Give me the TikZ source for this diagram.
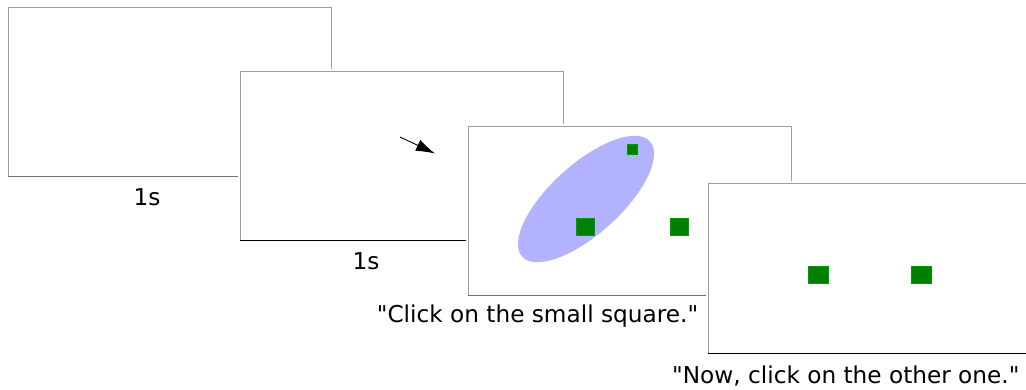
\documentclass[tikz,border=0pt]{standalone}
\usepackage{fontspec}
\setmainfont{DejaVu Sans}[Ligatures=TeXOff]
\usetikzlibrary{arrows.meta}
\begin{document}
\begin{tikzpicture}[x=1pt,y=1pt,
  panel/.style={draw=black!38, line width=1pt, fill=white, minimum width=323pt, minimum height=169pt, inner sep=0pt, outer sep=0pt, anchor=north west},
  halo/.style={draw=white, line width=5pt},
  lbl/.style={font=\fontsize{23.2}{27}\selectfont, anchor=base, inner sep=0pt},
  sq/.style={fill=green!50!black, draw=green!60!black, line width=0.4pt, inner sep=0pt, outer sep=0pt},
  pointer/.style={-{Latex[length=19pt,width=12pt]}, line width=0.9pt, black}]
\clip (0,0) rectangle (1026,-390);
\fill[white] (0,0) rectangle (1026,-390);
% panel 1
\node[panel] (p1) at (8,-7.5) {};
\draw[black!55, line width=1pt] (p1.south west) -- (p1.south east);
\node[lbl] (t1) at (147,-206) {1s};
% panel 2
\draw[halo] (240,-72) rectangle ++(323,-169);
\node[panel] (p2) at (240,-72) {};
\draw[black, line width=1pt] (p2.south west) -- (p2.south east);
\coordinate (a1) at (400,-137);
\coordinate (a2) at (435,-153.5);
\draw[pointer] (a1) -- (a2);
\node[lbl] (t2) at (366,-269.5) {1s};
% panel 3
\draw[halo] (468,-126.5) rectangle ++(323,-169);
\node[panel] (p3) at (468,-126.5) {};
\draw[black!55, line width=1pt] (p3.south west) -- (p3.south east);
\fill[blue!30] (586,-199) ellipse [x radius=86pt, y radius=35pt, rotate=42];
\node[sq, minimum width=10pt, minimum height=10pt] (s1) at (632,-149.5) {};
\node[sq, minimum width=18pt, minimum height=17pt] (s2) at (585,-226.5) {};
\node[sq, minimum width=18pt, minimum height=17pt] (s3) at (679.5,-226.5) {};
\node[lbl] (t3) at (537.5,-322) {"Click on the small square."};
% panel 4
\draw[halo] (708,-184) rectangle ++(323,-169);
\node[panel] (p4) at (708,-184) {};
\draw[black, line width=1pt] (p4.south west) -- (p4.south east);
\node[sq, minimum width=20pt, minimum height=17pt] (s4) at (817.7,-275) {};
\node[sq, minimum width=20pt, minimum height=17pt] (s5) at (921.5,-275) {};
\node[lbl] (t4) at (845.8,-383.3) {"Now, click on the other one."};
\end{tikzpicture}
\end{document}
